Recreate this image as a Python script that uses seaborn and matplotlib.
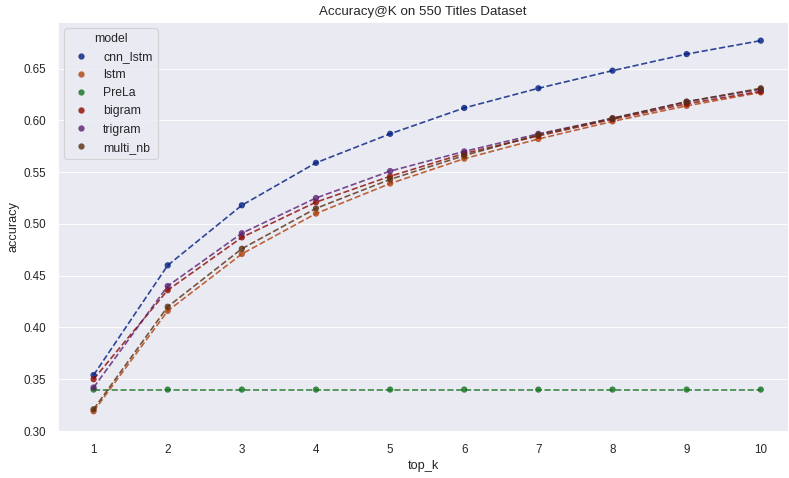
import pandas as pd
import numpy as np
import matplotlib.pyplot as plt
import seaborn as sns

top_k = [1, 2, 3, 4, 5, 6, 7, 8, 9, 10]
models = ['cnn_lstm', 'lstm', 'PreLa', 'bigram', 'trigram', 'multi_nb']

cnn_lstm = [0.354, 0.460, 0.518, 0.559, 0.587, 0.612, 0.631, 0.648, 0.664, 0.677]
lstm = [0.319, 0.416, 0.471, 0.510, 0.539, 0.563, 0.582, 0.599, 0.614, 0.627]
prela = [0.340, 0.340, 0.340, 0.340, 0.340, 0.340, 0.340, 0.340, 0.340, 0.340]
bigram = [0.350, 0.436, 0.487, 0.521, 0.546, 0.568, 0.585, 0.601, 0.616, 0.628]
trigram = [0.342, 0.440, 0.491, 0.525, 0.551, 0.570, 0.587, 0.602, 0.618, 0.630]
multi_nb = [0.321, 0.420, 0.476, 0.515, 0.543, 0.566, 0.586, 0.602, 0.618, 0.631]


def build_df():
    series = [cnn_lstm, lstm, prela, bigram, trigram, multi_nb]
    rows = []
    for name, vals in zip(models, series):
        for k, v in zip(top_k, vals):
            rows.append({'top_k': k, 'accuracy': v, 'model': name})
    return pd.DataFrame(rows)


def main():
    df = build_df()
    sns.set_style("darkgrid")
    plt.rcParams['font.family'] = ['Liberation Sans', 'DejaVu Sans']
    plt.rcParams.update({'font.size': 11, 'xtick.labelsize': 10.5, 'ytick.labelsize': 10.5,
                         'axes.labelsize': 11.5, 'axes.titlesize': 12,
                         'legend.fontsize': 11, 'legend.title_fontsize': 11,
                         'xtick.major.pad': 8, 'ytick.major.pad': 7})
    palette = sns.color_palette("dark", len(models))

    fig, ax = plt.subplots(figsize=(789 / 80, 478 / 80), dpi=80)
    fig.subplots_adjust(left=58 / 789, right=0.999, top=1 - 22 / 478, bottom=1 - 431 / 478)

    sns.lineplot(x='top_k', y='accuracy', hue='model', data=df, palette=palette,
                 linestyle='--', linewidth=1.5, alpha=0.8, legend=False, ax=ax)
    sns.scatterplot(x='top_k', y='accuracy', hue='model', data=df, palette=palette,
                    s=32, edgecolor='none', alpha=0.8, ax=ax, zorder=3)

    ax.xaxis.grid(False)
    ax.set_xticks(top_k)
    ax.set_xlim(0.52, 10.37)
    ax.set_ylim(0.30, 0.695)
    ax.set_title("Accuracy@K on 550 Titles Dataset")
    ax.legend(title='model', loc='upper left')
    plt.savefig('out.png', dpi=80)
    plt.close()


if __name__ == "__main__":
    main()
